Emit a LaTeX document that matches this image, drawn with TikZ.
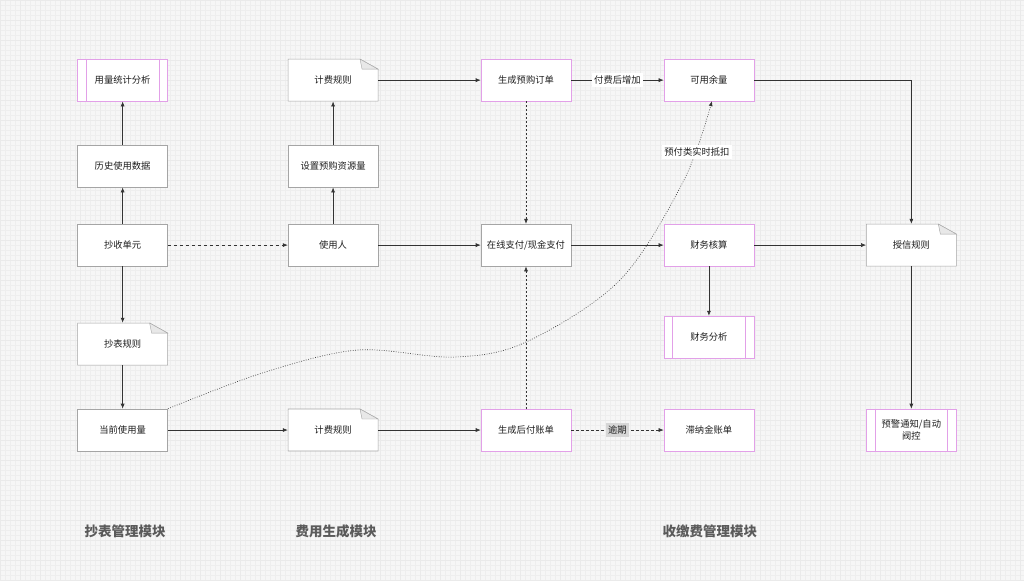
\documentclass[tikz,border=0pt]{standalone}
\usepackage{fontspec}
\setmainfont{Noto Sans CJK SC}
\usetikzlibrary{arrows.meta}
\definecolor{pinkb}{RGB}{226,160,232}
\definecolor{grayb}{RGB}{165,165,165}
\definecolor{linec}{RGB}{51,51,51}
\definecolor{txtc}{RGB}{30,30,30}
\definecolor{bgc}{RGB}{246,246,246}
\definecolor{gridc}{RGB}{238,238,238}
\definecolor{gridm}{RGB}{234,234,234}
\definecolor{modc}{RGB}{90,90,90}
\definecolor{foldc}{RGB}{232,232,232}
\definecolor{lblg}{RGB}{214,214,214}
\newcommand\mynote[4]{%
  \draw[grayb, line width=0.6pt, fill=white] ({#2-45},{#3-21}) -- ({#2+27},{#3-21}) -- ({#2+45},{#3-11}) -- ({#2+45},{#3+21}) -- ({#2-45},{#3+21}) -- cycle;
  \draw[grayb, line width=0.4pt, fill=foldc] ({#2+27},{#3-21}) -- ({#2+29},{#3-11}) -- ({#2+45},{#3-11}) -- cycle;
  \node[nbox] (#1) at (#2,#3) {#4};}
\newcommand\myproc[1]{%
  \draw[pinkb, line width=0.6pt] ([xshift=9pt]#1.north west) -- ([xshift=9pt]#1.south west);
  \draw[pinkb, line width=0.6pt] ([xshift=-9pt]#1.north east) -- ([xshift=-9pt]#1.south east);}
\begin{document}
\begin{tikzpicture}[x=1pt,y=-1pt,
  box/.style={draw=grayb, fill=white, line width=0.6pt, minimum width=90pt, minimum height=42pt, inner sep=0pt, font=\fontsize{9.3}{12}\selectfont, text=txtc, align=center},
  pbox/.style={box, draw=pinkb},
  nbox/.style={box, draw=none, fill=none},
  arr/.style={draw=linec, line width=0.6pt, -{Latex[length=5pt,width=4pt]}},
  lab/.style={fill=white, inner sep=2.5pt, font=\fontsize{9.3}{12}\selectfont, text=txtc},
  modlab/.style={font=\fontsize{13.5}{16}\selectfont\bfseries, text=modc}
]
% background
\fill[bgc] (0,0) rectangle (1024,581);
\foreach \i in {0,5,...,1024} \draw[gridc, line width=0.3pt] (\i,0) -- (\i,581);
\foreach \j in {0,5,...,581} \draw[gridc, line width=0.3pt] (0,\j) -- (1024,\j);
\foreach \i in {0,20,...,1024} \draw[gridm, line width=0.35pt] (\i,0) -- (\i,581);
\foreach \j in {0,20,...,581} \draw[gridm, line width=0.35pt] (0,\j) -- (1024,\j);
\useasboundingbox (0,0) rectangle (1024,581);

% column 1
\node[pbox] (yltj) at (122.5,80) {用量统计分析};
\myproc{yltj}
\node[box] (lssj) at (122.5,166) {历史使用数据};
\node[box] (cs) at (122.5,245) {抄收单元};
\mynote{cbgz}{122.5}{344}{抄表规则}
\node[box] (dqsy) at (122.5,430) {当前使用量};

% column 2
\mynote{jfa}{333}{80}{计费规则}
\node[box] (szyg) at (333,166) {设置预购资源量};
\node[box] (syr) at (333,245) {使用人};
\mynote{jfb}{333}{430}{计费规则}

% column 3
\node[pbox] (scyg) at (526,80) {生成预购订单};
\node[box] (zf) at (526,245) {在线支付/现金支付};
\node[pbox] (schf) at (526,430) {生成后付账单};

% column 4
\node[pbox] (kyyl) at (709,80) {可用余量};
\node[pbox] (cwhs) at (709,245) {财务核算};
\node[pbox] (cwfx) at (709,337) {财务分析};
\myproc{cwfx}
\node[pbox] (znj) at (709,430) {滞纳金账单};

% column 5
\mynote{sx}{911.5}{245}{授信规则}
\node[pbox] (yj) at (911.5,430) {预警通知/自动\\阀控};
\myproc{yj}

% connectors
\draw[arr] (lssj) -- (yltj);
\draw[arr] (cs) -- (lssj);
\draw[arr, dash pattern=on 3pt off 3pt] (cs) -- (syr);
\draw[arr] (cs) -- (cbgz);
\draw[arr] (cbgz) -- (dqsy);
\draw[arr] (dqsy) -- (jfb);
\draw[arr] (syr) -- (szyg);
\draw[arr] (szyg) -- (jfa);
\draw[arr] (jfa) -- (scyg);
\draw[arr] (syr) -- (zf);
\draw[arr] (jfb) -- (schf);
\draw[arr] (scyg) -- node[lab] (l1) {付费后增加} (kyyl);
\draw[arr, dash pattern=on 2pt off 2pt] (scyg) -- (zf);
\draw[arr, dash pattern=on 2pt off 2pt] (schf) -- (zf);
\draw[arr, dash pattern=on 3pt off 2pt] (schf) -- node[lab, fill=lblg] (l2) {逾期} (znj);
\draw[arr] (zf) -- (cwhs);
\draw[arr] (cwhs) -- (cwfx);
\draw[arr] (cwhs) -- (sx);
\draw[arr] (kyyl.east) -| (sx.north);
\draw[arr] (sx) -- (yj);
\draw[arr, dash pattern=on 0.8pt off 1.6pt, line width=0.6pt] plot[smooth, tension=0.55] coordinates {(dqsy.north east) (262,373) (357,350) (454,357) (526,342) (620,280) (684,180) (712,101)};
\node[lab] (l3) at (697,152) {预付类实时抵扣};

% module labels
\node[modlab] (m1) at (125,531) {抄表管理模块};
\node[modlab] (m2) at (336,531) {费用生成模块};
\node[modlab] (m3) at (710,531) {收缴费管理模块};
\end{tikzpicture}
\end{document}
